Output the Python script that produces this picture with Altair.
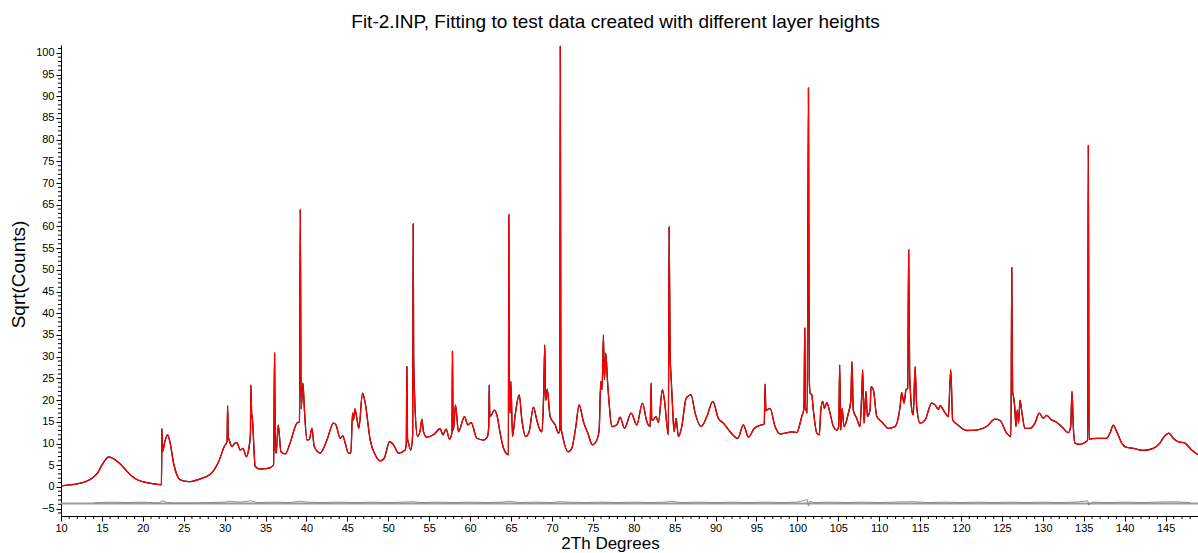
import altair as alt
import pandas as pd

TITLE = "Fit-2.INP, Fitting to test data created with different layer heights"
X_TITLE = "2Th Degrees"
Y_TITLE = "Sqrt(Counts)"

TWO_THETA = [
    10.0, 11.0, 12.0, 13.0, 14.0, 14.5, 15.0, 15.5, 15.8, 16.3,
    17.0, 17.5, 18.0, 19.0, 20.0, 21.0, 22.28, 22.33, 22.4, 22.7,
    23.03, 23.3, 23.76, 24.2, 24.58, 25.6, 27.0, 28.24, 29.26, 29.95,
    30.3, 30.36, 30.45, 30.56, 30.9, 31.2, 31.5, 31.9, 32.24, 32.64,
    32.92, 33.15, 33.21, 33.3, 33.37, 33.74, 34.35, 35.0, 35.57, 35.98,
    36.1, 36.2, 36.3, 36.55, 36.88, 37.4, 38.0, 38.83, 39.15, 39.24,
    39.35, 39.57, 39.73, 40.06, 40.35, 40.67, 40.95, 41.68, 42.5, 43.3,
    43.6, 44.12, 44.45, 44.73, 45.14, 45.43, 45.63, 45.75, 45.92, 46.16,
    46.4, 46.85, 47.18, 47.79, 48.4, 49.0, 49.5, 50.15, 50.64, 51.25,
    52.06, 52.2, 52.27, 52.35, 52.47, 52.76, 52.98, 53.04, 53.1, 53.16,
    53.28, 53.57, 53.9, 54.1, 54.3, 54.72, 55.53, 56.34, 56.67, 57.07,
    57.48, 57.78, 57.84, 57.92, 57.97, 58.21, 58.58, 59.31, 59.73, 60.13,
    60.82, 61.63, 62.12, 62.28, 62.33, 62.4, 62.45, 62.98, 63.27, 63.67,
    64.08, 64.49, 64.68, 64.73, 64.8, 64.9, 64.98, 65.18, 65.51, 66.0,
    66.33, 66.8, 67.21, 67.74, 68.15, 68.44, 68.77, 68.96, 69.13, 69.2,
    69.26, 69.42, 69.78, 70.39, 70.8, 70.96, 71.02, 71.1, 71.28, 72.02,
    72.43, 72.92, 73.32, 73.85, 74.38, 74.95, 75.49, 75.77, 75.97, 76.13,
    76.29, 76.41, 76.58, 76.78, 76.99, 77.32, 77.93, 78.33, 78.86, 79.68,
    80.37, 81.06, 81.6, 82.0, 82.12, 82.2, 82.33, 82.73, 83.01, 83.5,
    83.75, 84.23, 84.32, 84.45, 84.56, 84.72, 84.93, 85.17, 85.46, 85.87,
    86.4, 87.0, 87.5, 88.23, 88.93, 89.66, 90.34, 90.96, 91.77, 92.71,
    93.4, 94.01, 94.74, 95.65, 95.95, 96.05, 96.15, 96.26, 96.66, 97.27,
    97.88, 98.5, 99.31, 99.92, 100.53, 100.8, 100.9, 100.98, 101.06, 101.2,
    101.35, 101.45, 101.55, 101.76, 101.95, 102.37, 102.68, 102.86, 103.1, 103.3,
    103.59, 103.99, 104.4, 104.81, 105.05, 105.17, 105.3, 105.46, 105.7, 106.23,
    106.52, 106.67, 106.83, 107.25, 107.65, 107.86, 107.98, 108.14, 108.38, 108.55,
    108.88, 109.0, 109.28, 109.7, 110.31, 111.12, 111.93, 112.55, 112.75, 113.03,
    113.28, 113.48, 113.6, 113.72, 113.8, 114.05, 114.17, 114.38, 114.58, 114.99,
    115.6, 116.41, 116.82, 117.22, 117.43, 118.04, 118.45, 118.74, 118.98, 119.47,
    120.69, 121.91, 123.13, 124.15, 124.76, 125.58, 126.1, 126.2, 126.3, 126.38,
    126.56, 126.71, 126.87, 127.04, 127.2, 127.45, 127.81, 128.42, 129.03, 129.56,
    130.05, 130.46, 130.95, 131.68, 132.5, 133.1, 133.4, 133.56, 133.72, 133.92,
    134.53, 135.27, 135.47, 135.55, 135.65, 136.57, 137.79, 138.2, 138.6, 139.1,
    139.63, 140.24, 141.05, 142.27, 143.49, 144.3, 144.9, 145.4, 145.93, 146.54,
    147.36, 148.18, 148.96,
]

SQRT_COUNTS = [
    0.25, 0.45, 0.7, 1.2, 2.3, 3.3, 5.0, 6.4, 6.9, 6.6,
    5.7, 4.8, 3.7, 2.0, 1.2, 0.8, 0.5, 13.5, 8.1, 10.5,
    12.0, 10.5, 5.45, 2.6, 1.6, 1.2, 1.84, 2.9, 5.8, 9.3,
    10.5, 18.7, 11.5, 10.8, 9.3, 10.0, 10.2, 8.5, 8.9, 7.0,
    8.5, 12.0, 23.5, 17.0, 16.2, 4.7, 4.1, 4.2, 4.45, 5.1,
    30.8, 8.5, 7.8, 14.3, 8.1, 7.6, 10.1, 14.7, 15.0, 64.0,
    18.0, 23.9, 18.5, 10.8, 11.0, 13.5, 9.3, 7.8, 10.8, 14.7,
    14.3, 11.2, 11.75, 10.1, 7.8, 7.8, 17.0, 15.4, 18.0, 15.8,
    13.5, 21.6, 19.3, 10.8, 7.4, 6.0, 6.6, 10.4, 9.7, 7.8,
    8.5, 10.0, 27.7, 11.0, 10.1, 8.5, 12.0, 60.6, 30.0, 24.7,
    17.7, 11.6, 13.0, 15.6, 12.7, 11.45, 12.0, 13.4, 12.0, 13.3,
    11.0, 12.5, 31.2, 14.0, 13.1, 18.9, 12.7, 16.2, 14.3, 14.8,
    11.2, 10.8, 11.6, 14.0, 23.5, 17.0, 16.2, 17.7, 16.6, 12.4,
    8.9, 7.6, 7.4, 62.7, 20.0, 17.0, 24.3, 11.6, 16.6, 21.2,
    15.4, 11.6, 12.7, 18.4, 15.4, 13.5, 12.7, 19.3, 32.7, 21.0,
    20.0, 22.5, 16.2, 14.3, 12.4, 13.0, 101.5, 14.0, 12.0, 8.1,
    8.9, 13.9, 18.9, 15.0, 12.4, 9.7, 10.8, 13.1, 24.3, 22.4,
    35.0, 24.7, 30.8, 24.7, 19.3, 13.9, 14.3, 16.1, 13.5, 17.0,
    14.3, 19.3, 15.0, 13.9, 23.9, 15.5, 15.4, 16.2, 14.8, 22.4,
    20.0, 12.0, 59.9, 30.0, 25.4, 19.3, 12.7, 15.8, 11.6, 13.9,
    20.4, 21.2, 17.0, 13.9, 16.2, 19.7, 15.8, 14.7, 12.7, 11.2,
    14.3, 11.45, 13.5, 14.3, 14.5, 23.7, 17.5, 17.7, 18.1, 13.9,
    12.2, 12.4, 12.7, 12.5, 16.2, 18.1, 36.6, 18.5, 17.7, 17.0,
    91.9, 25.0, 21.6, 21.2, 17.7, 12.4, 12.0, 17.7, 19.7, 18.1,
    19.4, 17.0, 13.9, 13.1, 13.9, 28.1, 13.1, 18.1, 13.9, 17.0,
    19.7, 28.9, 17.7, 15.8, 13.9, 21.2, 27.0, 14.7, 22.0, 16.2,
    17.7, 23.1, 22.4, 16.2, 15.0, 13.5, 13.9, 18.5, 21.7, 19.3,
    22.4, 22.7, 54.6, 26.0, 22.4, 17.0, 16.6, 27.7, 18.5, 14.7,
    15.4, 19.3, 18.9, 17.9, 18.7, 17.1, 16.2, 27.0, 15.4, 14.5,
    13.0, 13.1, 13.9, 15.6, 15.3, 12.4, 11.6, 50.5, 22.0, 21.2,
    18.5, 13.9, 17.7, 14.7, 20.0, 17.0, 13.5, 13.5, 14.7, 17.0,
    15.8, 16.5, 15.6, 14.9, 13.5, 12.5, 13.9, 22.0, 13.9, 10.1,
    9.8, 10.4, 10.8, 78.8, 11.0, 11.2, 11.2, 12.4, 14.2, 12.4,
    10.1, 9.1, 8.9, 8.4, 8.9, 10.1, 11.75, 12.4, 11.2, 10.4,
    10.1, 8.5, 7.4,
]

DIFF_X = [
    14, 16, 18, 20, 22, 22.3, 23, 24, 26, 28,
    30, 30.4, 32, 33.2, 34, 36, 38, 39.2, 40, 42,
    44, 46, 48, 50, 52, 53, 54, 56, 58, 60,
    62, 64, 64.7, 66, 68, 70, 71, 72, 74, 76,
    78, 80, 82, 84, 84.3, 86, 88, 90, 92, 94,
    96, 98, 100, 101.2, 101.35, 101.5, 102, 104, 106, 108,
    110, 112, 114, 116, 118, 120, 122, 124, 126, 128,
    130, 132, 134, 135.5, 135.6, 136, 138, 140, 142, 144,
    146, 148,
]
DIFF_Y = [
    -3.7, -3.5, -3.6, -3.5, -3.7, -3.2, -3.6, -3.7, -3.7, -3.6,
    -3.5, -3.3, -3.5, -3.2, -3.6, -3.5, -3.6, -3.3, -3.5, -3.6,
    -3.5, -3.6, -3.5, -3.6, -3.5, -3.4, -3.6, -3.5, -3.6, -3.5,
    -3.6, -3.5, -3.3, -3.6, -3.5, -3.6, -3.4, -3.5, -3.6, -3.5,
    -3.6, -3.5, -3.6, -3.5, -3.3, -3.6, -3.5, -3.6, -3.5, -3.6,
    -3.5, -3.6, -3.5, -2.9, -4.4, -3.3, -3.6, -3.5, -3.6, -3.5,
    -3.6, -3.5, -3.4, -3.6, -3.5, -3.6, -3.5, -3.6, -3.5, -3.6,
    -3.5, -3.6, -3.5, -3.2, -4.2, -3.5, -3.6, -3.5, -3.6, -3.5,
    -3.4, -3.6,
]
DIFF_ZERO = [-3.8]

X_DOMAIN = [10, 148.96]
Y_DOMAIN = [-6.7, 101.8]
X_MAJOR = [10, 15, 20, 25, 30, 35, 40, 45, 50, 55, 60, 65, 70, 75, 80, 85, 90,
           95, 100, 105, 110, 115, 120, 125, 130, 135, 140, 145]
Y_MAJOR = [-5, 0, 5, 10, 15, 20, 25, 30, 35, 40, 45, 50, 55, 60, 65, 70, 75, 80,
           85, 90, 95, 100]
X_MINOR = [v for v in range(11, 149) if v % 5 != 0]
Y_MINOR = [v for v in range(-6, 102) if v % 5 != 0]

W, H = 1137, 471
LABEL_FONT = "Liberation Sans Narrow, Arial Narrow, Liberation Sans, Arial"
FONT = "Liberation Sans, Arial"

profile = pd.DataFrame({"tth": TWO_THETA, "y": SQRT_COUNTS})
diff = pd.DataFrame({"tth": DIFF_X, "y": DIFF_Y})
zero = pd.DataFrame({"y": DIFF_ZERO})
xminor = pd.DataFrame({"tth": X_MINOR})
yminor = pd.DataFrame({"y": Y_MINOR})

xscale = alt.Scale(domain=X_DOMAIN, nice=False, zero=False)
yscale = alt.Scale(domain=Y_DOMAIN, nice=False, zero=False)

xaxis = alt.Axis(
    values=X_MAJOR, title=X_TITLE, grid=False, tickSize=5, tickColor="black",
    domainColor="black", labelColor="black", labelFont=LABEL_FONT,
    labelFontSize=11, labelPadding=1, labelFlush=False, labelOverlap=False,
    labelBound=False,
    titleFont=FONT, titleFontSize=17, titleFontWeight="normal", titleColor="black",
    titleX=549, titleY=27, titleBaseline="middle", titleAlign="center",
)
yaxis = alt.Axis(
    values=Y_MAJOR, title=Y_TITLE, grid=False, tickSize=5, tickColor="black",
    domainColor="black", labelColor="black", labelFont=LABEL_FONT,
    labelFontSize=11, labelPadding=2, labelFlush=False, labelOverlap=False,
    labelBound=False,
    titleFont=FONT, titleFontSize=19, titleFontWeight="normal", titleColor="black",
    titleX=-43, titleY=229, titleBaseline="middle", titleAlign="center", titleAngle=270,
)


def X():
    return alt.X("tth:Q", scale=xscale, axis=xaxis)


def Y():
    return alt.Y("y:Q", scale=yscale, axis=yaxis)


obs = alt.Chart(profile).mark_line(
    color="black", strokeWidth=1.3, interpolate="monotone"
).encode(x=X(), y=Y())
calc = alt.Chart(profile).mark_line(
    color="#ff0000", strokeWidth=1.25, interpolate="monotone"
).encode(x=X(), y=Y())
zero_line = alt.Chart(zero).mark_rule(color="#9a9a9a", strokeWidth=2).encode(y=Y())
diff_line = alt.Chart(diff).mark_line(color="#7a7a7a", strokeWidth=0.8).encode(x=X(), y=Y())
xminor_ticks = alt.Chart(xminor).mark_rule(color="black", strokeWidth=1).encode(
    x=X(), y=alt.value(H), y2=alt.value(H + 3),
)
yminor_ticks = alt.Chart(yminor).mark_rule(color="black", strokeWidth=1).encode(
    y=Y(), x=alt.value(-3), x2=alt.value(0),
)

chart = alt.layer(
    obs, zero_line, diff_line, calc, xminor_ticks, yminor_ticks
).properties(
    width=W, height=H,
    title=alt.TitleParams(TITLE, font=FONT, fontSize=19, fontWeight="normal",
                          color="black", anchor="middle", offset=12, dx=-14),
    autosize=alt.AutoSizeParams(type="none"),
    padding={"left": 61, "top": 45, "right": 0, "bottom": 37},
).configure_view(stroke=None)

chart.save("out.html", embed_options={"renderer": "svg", "actions": False})
